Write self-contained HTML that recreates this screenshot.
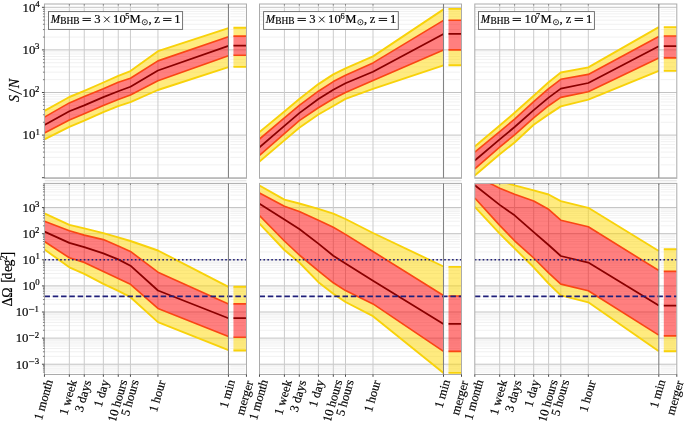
<!DOCTYPE html>
<html><head><meta charset="utf-8"><style>
html,body{margin:0;padding:0;background:#fff;overflow:hidden;}
svg{display:block;}
text{filter:grayscale(1);stroke:#000;stroke-width:0.18px;}
</style></head><body>
<svg width="685" height="421" viewBox="0 0 685 421">
<rect width="685" height="421" fill="#fff"/>
<defs>
<clipPath id="c00"><rect x="44.45" y="4.0" width="202.0" height="174.3"/></clipPath>
<clipPath id="c01"><rect x="259.5" y="4.0" width="202.0" height="174.3"/></clipPath>
<clipPath id="c02"><rect x="474.8" y="4.0" width="202.0" height="174.3"/></clipPath>
<clipPath id="c10"><rect x="44.45" y="183.4" width="202.0" height="191.1"/></clipPath>
<clipPath id="c11"><rect x="259.5" y="183.4" width="202.0" height="191.1"/></clipPath>
<clipPath id="c12"><rect x="474.8" y="183.4" width="202.0" height="191.1"/></clipPath>
</defs>
<g clip-path="url(#c00)">
<path d="M44.45 164.88H226.65M230.25 164.88H244.85" stroke="#f1f1f1" stroke-width="1" fill="none"/>
<path d="M44.45 157.37H226.65M230.25 157.37H244.85" stroke="#f1f1f1" stroke-width="1" fill="none"/>
<path d="M44.45 152.05H226.65M230.25 152.05H244.85" stroke="#f1f1f1" stroke-width="1" fill="none"/>
<path d="M44.45 147.92H226.65M230.25 147.92H244.85" stroke="#f1f1f1" stroke-width="1" fill="none"/>
<path d="M44.45 144.55H226.65M230.25 144.55H244.85" stroke="#f1f1f1" stroke-width="1" fill="none"/>
<path d="M44.45 141.70H226.65M230.25 141.70H244.85" stroke="#f1f1f1" stroke-width="1" fill="none"/>
<path d="M44.45 139.23H226.65M230.25 139.23H244.85" stroke="#f1f1f1" stroke-width="1" fill="none"/>
<path d="M44.45 137.05H226.65M230.25 137.05H244.85" stroke="#f1f1f1" stroke-width="1" fill="none"/>
<path d="M44.45 122.28H226.65M230.25 122.28H244.85" stroke="#f1f1f1" stroke-width="1" fill="none"/>
<path d="M44.45 114.77H226.65M230.25 114.77H244.85" stroke="#f1f1f1" stroke-width="1" fill="none"/>
<path d="M44.45 109.45H226.65M230.25 109.45H244.85" stroke="#f1f1f1" stroke-width="1" fill="none"/>
<path d="M44.45 105.32H226.65M230.25 105.32H244.85" stroke="#f1f1f1" stroke-width="1" fill="none"/>
<path d="M44.45 101.95H226.65M230.25 101.95H244.85" stroke="#f1f1f1" stroke-width="1" fill="none"/>
<path d="M44.45 99.10H226.65M230.25 99.10H244.85" stroke="#f1f1f1" stroke-width="1" fill="none"/>
<path d="M44.45 96.63H226.65M230.25 96.63H244.85" stroke="#f1f1f1" stroke-width="1" fill="none"/>
<path d="M44.45 94.45H226.65M230.25 94.45H244.85" stroke="#f1f1f1" stroke-width="1" fill="none"/>
<path d="M44.45 79.68H226.65M230.25 79.68H244.85" stroke="#f1f1f1" stroke-width="1" fill="none"/>
<path d="M44.45 72.17H226.65M230.25 72.17H244.85" stroke="#f1f1f1" stroke-width="1" fill="none"/>
<path d="M44.45 66.85H226.65M230.25 66.85H244.85" stroke="#f1f1f1" stroke-width="1" fill="none"/>
<path d="M44.45 62.72H226.65M230.25 62.72H244.85" stroke="#f1f1f1" stroke-width="1" fill="none"/>
<path d="M44.45 59.35H226.65M230.25 59.35H244.85" stroke="#f1f1f1" stroke-width="1" fill="none"/>
<path d="M44.45 56.50H226.65M230.25 56.50H244.85" stroke="#f1f1f1" stroke-width="1" fill="none"/>
<path d="M44.45 54.03H226.65M230.25 54.03H244.85" stroke="#f1f1f1" stroke-width="1" fill="none"/>
<path d="M44.45 51.85H226.65M230.25 51.85H244.85" stroke="#f1f1f1" stroke-width="1" fill="none"/>
<path d="M44.45 37.08H226.65M230.25 37.08H244.85" stroke="#f1f1f1" stroke-width="1" fill="none"/>
<path d="M44.45 29.57H226.65M230.25 29.57H244.85" stroke="#f1f1f1" stroke-width="1" fill="none"/>
<path d="M44.45 24.25H226.65M230.25 24.25H244.85" stroke="#f1f1f1" stroke-width="1" fill="none"/>
<path d="M44.45 20.12H226.65M230.25 20.12H244.85" stroke="#f1f1f1" stroke-width="1" fill="none"/>
<path d="M44.45 16.75H226.65M230.25 16.75H244.85" stroke="#f1f1f1" stroke-width="1" fill="none"/>
<path d="M44.45 13.90H226.65M230.25 13.90H244.85" stroke="#f1f1f1" stroke-width="1" fill="none"/>
<path d="M44.45 11.43H226.65M230.25 11.43H244.85" stroke="#f1f1f1" stroke-width="1" fill="none"/>
<path d="M44.45 9.25H226.65M230.25 9.25H244.85" stroke="#f1f1f1" stroke-width="1" fill="none"/>
<path d="M44.45 177.70H246.45" stroke="#c3c3c3" stroke-width="1" fill="none"/>
<path d="M44.45 135.10H246.45" stroke="#c3c3c3" stroke-width="1" fill="none"/>
<path d="M44.45 92.50H246.45" stroke="#c3c3c3" stroke-width="1" fill="none"/>
<path d="M44.45 49.90H246.45" stroke="#c3c3c3" stroke-width="1" fill="none"/>
<path d="M44.45 7.30H246.45" stroke="#c3c3c3" stroke-width="1" fill="none"/>
<path d="M69.35 4.00V178.30" stroke="#cbcbcb" stroke-width="1" fill="none"/>
<path d="M84.25 4.00V178.30" stroke="#cbcbcb" stroke-width="1" fill="none"/>
<path d="M103.35 4.00V178.30" stroke="#cbcbcb" stroke-width="1" fill="none"/>
<path d="M118.25 4.00V178.30" stroke="#cbcbcb" stroke-width="1" fill="none"/>
<path d="M130.45 4.00V178.30" stroke="#cbcbcb" stroke-width="1" fill="none"/>
<path d="M157.95 4.00V178.30" stroke="#cbcbcb" stroke-width="1" fill="none"/>
<polygon points="44.45,110.90 69.35,97.00 84.25,90.80 103.35,82.50 118.25,75.80 130.45,71.10 157.95,51.20 228.45,28.20 228.45,36.70 157.95,60.90 130.45,78.30 118.25,82.30 103.35,88.80 84.25,96.60 69.35,102.90 44.45,117.10" fill="#ffd700" fill-opacity="0.5"/>
<polygon points="44.45,132.90 69.35,120.00 84.25,113.80 103.35,105.40 118.25,99.50 130.45,94.90 157.95,80.70 228.45,55.70 228.45,67.10 157.95,90.00 130.45,102.20 118.25,106.20 103.35,112.10 84.25,120.60 69.35,126.80 44.45,139.40" fill="#ffd700" fill-opacity="0.5"/>
<polygon points="44.45,117.10 69.35,102.90 84.25,96.60 103.35,88.80 118.25,82.30 130.45,78.30 157.95,60.90 228.45,36.70 228.45,55.70 157.95,80.70 130.45,94.90 118.25,99.50 103.35,105.40 84.25,113.80 69.35,120.00 44.45,132.90" fill="#ff0000" fill-opacity="0.5"/>
<polyline points="44.45,110.90 69.35,97.00 84.25,90.80 103.35,82.50 118.25,75.80 130.45,71.10 157.95,51.20 228.45,28.20" stroke="#f8d20a" stroke-width="1.9" fill="none" stroke-linejoin="round"/>
<polyline points="44.45,139.40 69.35,126.80 84.25,120.60 103.35,112.10 118.25,106.20 130.45,102.20 157.95,90.00 228.45,67.10" stroke="#f8d20a" stroke-width="1.9" fill="none" stroke-linejoin="round"/>
<polyline points="44.45,117.10 69.35,102.90 84.25,96.60 103.35,88.80 118.25,82.30 130.45,78.30 157.95,60.90 228.45,36.70" stroke="#fa4614" stroke-width="1.65" fill="none" stroke-linejoin="round"/>
<polyline points="44.45,132.90 69.35,120.00 84.25,113.80 103.35,105.40 118.25,99.50 130.45,94.90 157.95,80.70 228.45,55.70" stroke="#fa4614" stroke-width="1.65" fill="none" stroke-linejoin="round"/>
<polyline points="44.45,125.00 69.35,111.20 84.25,105.40 103.35,97.10 118.25,91.20 130.45,86.80 157.95,70.50 228.45,45.80" stroke="#8a0000" stroke-width="1.75" fill="none" stroke-linejoin="round"/>
<rect x="233.45" y="27.80" width="13.00" height="8.30" fill="#ffd700" fill-opacity="0.5"/>
<rect x="233.45" y="55.20" width="13.00" height="11.70" fill="#ffd700" fill-opacity="0.5"/>
<rect x="233.45" y="36.10" width="13.00" height="19.10" fill="#ff0000" fill-opacity="0.5"/>
<path d="M233.45 27.80H246.45" stroke="#f8d20a" stroke-width="1.9" fill="none"/>
<path d="M233.45 66.90H246.45" stroke="#f8d20a" stroke-width="1.9" fill="none"/>
<path d="M233.45 36.10H246.45" stroke="#fa4614" stroke-width="1.65" fill="none"/>
<path d="M233.45 55.20H246.45" stroke="#fa4614" stroke-width="1.65" fill="none"/>
<path d="M233.45 45.70H246.45" stroke="#8a0000" stroke-width="1.75" fill="none"/>
<path d="M228.45 4.00V178.30" stroke="#838383" stroke-width="1.1" fill="none"/>
</g>
<rect x="44.45" y="4.00" width="202.0" height="174.30" fill="none" stroke="#ababab" stroke-width="1"/>
<path d="M41.95 177.70H44.45" stroke="#333" stroke-width="0.9"/>
<path d="M42.95 164.88H44.45" stroke="#444" stroke-width="0.7"/>
<path d="M42.95 157.37H44.45" stroke="#444" stroke-width="0.7"/>
<path d="M42.95 152.05H44.45" stroke="#444" stroke-width="0.7"/>
<path d="M42.95 147.92H44.45" stroke="#444" stroke-width="0.7"/>
<path d="M42.95 144.55H44.45" stroke="#444" stroke-width="0.7"/>
<path d="M42.95 141.70H44.45" stroke="#444" stroke-width="0.7"/>
<path d="M42.95 139.23H44.45" stroke="#444" stroke-width="0.7"/>
<path d="M42.95 137.05H44.45" stroke="#444" stroke-width="0.7"/>
<path d="M41.95 135.10H44.45" stroke="#333" stroke-width="0.9"/>
<path d="M42.95 122.28H44.45" stroke="#444" stroke-width="0.7"/>
<path d="M42.95 114.77H44.45" stroke="#444" stroke-width="0.7"/>
<path d="M42.95 109.45H44.45" stroke="#444" stroke-width="0.7"/>
<path d="M42.95 105.32H44.45" stroke="#444" stroke-width="0.7"/>
<path d="M42.95 101.95H44.45" stroke="#444" stroke-width="0.7"/>
<path d="M42.95 99.10H44.45" stroke="#444" stroke-width="0.7"/>
<path d="M42.95 96.63H44.45" stroke="#444" stroke-width="0.7"/>
<path d="M42.95 94.45H44.45" stroke="#444" stroke-width="0.7"/>
<path d="M41.95 92.50H44.45" stroke="#333" stroke-width="0.9"/>
<path d="M42.95 79.68H44.45" stroke="#444" stroke-width="0.7"/>
<path d="M42.95 72.17H44.45" stroke="#444" stroke-width="0.7"/>
<path d="M42.95 66.85H44.45" stroke="#444" stroke-width="0.7"/>
<path d="M42.95 62.72H44.45" stroke="#444" stroke-width="0.7"/>
<path d="M42.95 59.35H44.45" stroke="#444" stroke-width="0.7"/>
<path d="M42.95 56.50H44.45" stroke="#444" stroke-width="0.7"/>
<path d="M42.95 54.03H44.45" stroke="#444" stroke-width="0.7"/>
<path d="M42.95 51.85H44.45" stroke="#444" stroke-width="0.7"/>
<path d="M41.95 49.90H44.45" stroke="#333" stroke-width="0.9"/>
<path d="M42.95 37.08H44.45" stroke="#444" stroke-width="0.7"/>
<path d="M42.95 29.57H44.45" stroke="#444" stroke-width="0.7"/>
<path d="M42.95 24.25H44.45" stroke="#444" stroke-width="0.7"/>
<path d="M42.95 20.12H44.45" stroke="#444" stroke-width="0.7"/>
<path d="M42.95 16.75H44.45" stroke="#444" stroke-width="0.7"/>
<path d="M42.95 13.90H44.45" stroke="#444" stroke-width="0.7"/>
<path d="M42.95 11.43H44.45" stroke="#444" stroke-width="0.7"/>
<path d="M42.95 9.25H44.45" stroke="#444" stroke-width="0.7"/>
<path d="M41.95 7.30H44.45" stroke="#333" stroke-width="0.9"/>
<path d="M69.35 4.00V5.60" stroke="#777" stroke-width="0.8"/>
<path d="M84.25 4.00V5.60" stroke="#777" stroke-width="0.8"/>
<path d="M103.35 4.00V5.60" stroke="#777" stroke-width="0.8"/>
<path d="M118.25 4.00V5.60" stroke="#777" stroke-width="0.8"/>
<path d="M130.45 4.00V5.60" stroke="#777" stroke-width="0.8"/>
<path d="M157.95 4.00V5.60" stroke="#777" stroke-width="0.8"/>
<path d="M228.45 4.00V5.60" stroke="#777" stroke-width="0.8"/>
<g clip-path="url(#c01)">
<path d="M259.50 164.88H441.70M445.30 164.88H459.90" stroke="#f1f1f1" stroke-width="1" fill="none"/>
<path d="M259.50 157.37H441.70M445.30 157.37H459.90" stroke="#f1f1f1" stroke-width="1" fill="none"/>
<path d="M259.50 152.05H441.70M445.30 152.05H459.90" stroke="#f1f1f1" stroke-width="1" fill="none"/>
<path d="M259.50 147.92H441.70M445.30 147.92H459.90" stroke="#f1f1f1" stroke-width="1" fill="none"/>
<path d="M259.50 144.55H441.70M445.30 144.55H459.90" stroke="#f1f1f1" stroke-width="1" fill="none"/>
<path d="M259.50 141.70H441.70M445.30 141.70H459.90" stroke="#f1f1f1" stroke-width="1" fill="none"/>
<path d="M259.50 139.23H441.70M445.30 139.23H459.90" stroke="#f1f1f1" stroke-width="1" fill="none"/>
<path d="M259.50 137.05H441.70M445.30 137.05H459.90" stroke="#f1f1f1" stroke-width="1" fill="none"/>
<path d="M259.50 122.28H441.70M445.30 122.28H459.90" stroke="#f1f1f1" stroke-width="1" fill="none"/>
<path d="M259.50 114.77H441.70M445.30 114.77H459.90" stroke="#f1f1f1" stroke-width="1" fill="none"/>
<path d="M259.50 109.45H441.70M445.30 109.45H459.90" stroke="#f1f1f1" stroke-width="1" fill="none"/>
<path d="M259.50 105.32H441.70M445.30 105.32H459.90" stroke="#f1f1f1" stroke-width="1" fill="none"/>
<path d="M259.50 101.95H441.70M445.30 101.95H459.90" stroke="#f1f1f1" stroke-width="1" fill="none"/>
<path d="M259.50 99.10H441.70M445.30 99.10H459.90" stroke="#f1f1f1" stroke-width="1" fill="none"/>
<path d="M259.50 96.63H441.70M445.30 96.63H459.90" stroke="#f1f1f1" stroke-width="1" fill="none"/>
<path d="M259.50 94.45H441.70M445.30 94.45H459.90" stroke="#f1f1f1" stroke-width="1" fill="none"/>
<path d="M259.50 79.68H441.70M445.30 79.68H459.90" stroke="#f1f1f1" stroke-width="1" fill="none"/>
<path d="M259.50 72.17H441.70M445.30 72.17H459.90" stroke="#f1f1f1" stroke-width="1" fill="none"/>
<path d="M259.50 66.85H441.70M445.30 66.85H459.90" stroke="#f1f1f1" stroke-width="1" fill="none"/>
<path d="M259.50 62.72H441.70M445.30 62.72H459.90" stroke="#f1f1f1" stroke-width="1" fill="none"/>
<path d="M259.50 59.35H441.70M445.30 59.35H459.90" stroke="#f1f1f1" stroke-width="1" fill="none"/>
<path d="M259.50 56.50H441.70M445.30 56.50H459.90" stroke="#f1f1f1" stroke-width="1" fill="none"/>
<path d="M259.50 54.03H441.70M445.30 54.03H459.90" stroke="#f1f1f1" stroke-width="1" fill="none"/>
<path d="M259.50 51.85H441.70M445.30 51.85H459.90" stroke="#f1f1f1" stroke-width="1" fill="none"/>
<path d="M259.50 37.08H441.70M445.30 37.08H459.90" stroke="#f1f1f1" stroke-width="1" fill="none"/>
<path d="M259.50 29.57H441.70M445.30 29.57H459.90" stroke="#f1f1f1" stroke-width="1" fill="none"/>
<path d="M259.50 24.25H441.70M445.30 24.25H459.90" stroke="#f1f1f1" stroke-width="1" fill="none"/>
<path d="M259.50 20.12H441.70M445.30 20.12H459.90" stroke="#f1f1f1" stroke-width="1" fill="none"/>
<path d="M259.50 16.75H441.70M445.30 16.75H459.90" stroke="#f1f1f1" stroke-width="1" fill="none"/>
<path d="M259.50 13.90H441.70M445.30 13.90H459.90" stroke="#f1f1f1" stroke-width="1" fill="none"/>
<path d="M259.50 11.43H441.70M445.30 11.43H459.90" stroke="#f1f1f1" stroke-width="1" fill="none"/>
<path d="M259.50 9.25H441.70M445.30 9.25H459.90" stroke="#f1f1f1" stroke-width="1" fill="none"/>
<path d="M259.50 177.70H461.50" stroke="#c3c3c3" stroke-width="1" fill="none"/>
<path d="M259.50 135.10H461.50" stroke="#c3c3c3" stroke-width="1" fill="none"/>
<path d="M259.50 92.50H461.50" stroke="#c3c3c3" stroke-width="1" fill="none"/>
<path d="M259.50 49.90H461.50" stroke="#c3c3c3" stroke-width="1" fill="none"/>
<path d="M259.50 7.30H461.50" stroke="#c3c3c3" stroke-width="1" fill="none"/>
<path d="M284.40 4.00V178.30" stroke="#cbcbcb" stroke-width="1" fill="none"/>
<path d="M299.30 4.00V178.30" stroke="#cbcbcb" stroke-width="1" fill="none"/>
<path d="M318.40 4.00V178.30" stroke="#cbcbcb" stroke-width="1" fill="none"/>
<path d="M333.30 4.00V178.30" stroke="#cbcbcb" stroke-width="1" fill="none"/>
<path d="M345.50 4.00V178.30" stroke="#cbcbcb" stroke-width="1" fill="none"/>
<path d="M373.00 4.00V178.30" stroke="#cbcbcb" stroke-width="1" fill="none"/>
<polygon points="259.50,132.00 284.40,111.40 299.30,99.00 318.40,84.10 333.30,74.40 345.50,68.30 373.00,56.40 443.50,9.40 443.50,20.40 373.00,62.90 345.50,75.30 333.30,81.60 318.40,91.20 299.30,105.30 284.40,117.90 259.50,139.00" fill="#ffd700" fill-opacity="0.5"/>
<polygon points="259.50,155.30 284.40,133.60 299.30,120.60 318.40,107.80 333.30,98.80 345.50,92.40 373.00,80.60 443.50,50.10 443.50,65.30 373.00,88.90 345.50,98.90 333.30,106.00 318.40,114.50 299.30,127.70 284.40,140.40 259.50,161.50" fill="#ffd700" fill-opacity="0.5"/>
<polygon points="259.50,139.00 284.40,117.90 299.30,105.30 318.40,91.20 333.30,81.60 345.50,75.30 373.00,62.90 443.50,20.40 443.50,50.10 373.00,80.60 345.50,92.40 333.30,98.80 318.40,107.80 299.30,120.60 284.40,133.60 259.50,155.30" fill="#ff0000" fill-opacity="0.5"/>
<polyline points="259.50,132.00 284.40,111.40 299.30,99.00 318.40,84.10 333.30,74.40 345.50,68.30 373.00,56.40 443.50,9.40" stroke="#f8d20a" stroke-width="1.9" fill="none" stroke-linejoin="round"/>
<polyline points="259.50,161.50 284.40,140.40 299.30,127.70 318.40,114.50 333.30,106.00 345.50,98.90 373.00,88.90 443.50,65.30" stroke="#f8d20a" stroke-width="1.9" fill="none" stroke-linejoin="round"/>
<polyline points="259.50,139.00 284.40,117.90 299.30,105.30 318.40,91.20 333.30,81.60 345.50,75.30 373.00,62.90 443.50,20.40" stroke="#fa4614" stroke-width="1.65" fill="none" stroke-linejoin="round"/>
<polyline points="259.50,155.30 284.40,133.60 299.30,120.60 318.40,107.80 333.30,98.80 345.50,92.40 373.00,80.60 443.50,50.10" stroke="#fa4614" stroke-width="1.65" fill="none" stroke-linejoin="round"/>
<polyline points="259.50,147.30 284.40,125.90 299.30,113.10 318.40,99.00 333.30,89.70 345.50,83.20 373.00,71.80 443.50,33.90" stroke="#8a0000" stroke-width="1.75" fill="none" stroke-linejoin="round"/>
<rect x="448.50" y="8.90" width="13.00" height="11.30" fill="#ffd700" fill-opacity="0.5"/>
<rect x="448.50" y="49.90" width="13.00" height="15.30" fill="#ffd700" fill-opacity="0.5"/>
<rect x="448.50" y="20.20" width="13.00" height="29.70" fill="#ff0000" fill-opacity="0.5"/>
<path d="M448.50 8.90H461.50" stroke="#f8d20a" stroke-width="1.9" fill="none"/>
<path d="M448.50 65.20H461.50" stroke="#f8d20a" stroke-width="1.9" fill="none"/>
<path d="M448.50 20.20H461.50" stroke="#fa4614" stroke-width="1.65" fill="none"/>
<path d="M448.50 49.90H461.50" stroke="#fa4614" stroke-width="1.65" fill="none"/>
<path d="M448.50 33.90H461.50" stroke="#8a0000" stroke-width="1.75" fill="none"/>
<path d="M443.50 4.00V178.30" stroke="#838383" stroke-width="1.1" fill="none"/>
</g>
<rect x="259.50" y="4.00" width="202.0" height="174.30" fill="none" stroke="#ababab" stroke-width="1"/>
<path d="M284.40 4.00V5.60" stroke="#777" stroke-width="0.8"/>
<path d="M299.30 4.00V5.60" stroke="#777" stroke-width="0.8"/>
<path d="M318.40 4.00V5.60" stroke="#777" stroke-width="0.8"/>
<path d="M333.30 4.00V5.60" stroke="#777" stroke-width="0.8"/>
<path d="M345.50 4.00V5.60" stroke="#777" stroke-width="0.8"/>
<path d="M373.00 4.00V5.60" stroke="#777" stroke-width="0.8"/>
<path d="M443.50 4.00V5.60" stroke="#777" stroke-width="0.8"/>
<g clip-path="url(#c02)">
<path d="M474.80 164.88H657.00M660.60 164.88H675.20" stroke="#f1f1f1" stroke-width="1" fill="none"/>
<path d="M474.80 157.37H657.00M660.60 157.37H675.20" stroke="#f1f1f1" stroke-width="1" fill="none"/>
<path d="M474.80 152.05H657.00M660.60 152.05H675.20" stroke="#f1f1f1" stroke-width="1" fill="none"/>
<path d="M474.80 147.92H657.00M660.60 147.92H675.20" stroke="#f1f1f1" stroke-width="1" fill="none"/>
<path d="M474.80 144.55H657.00M660.60 144.55H675.20" stroke="#f1f1f1" stroke-width="1" fill="none"/>
<path d="M474.80 141.70H657.00M660.60 141.70H675.20" stroke="#f1f1f1" stroke-width="1" fill="none"/>
<path d="M474.80 139.23H657.00M660.60 139.23H675.20" stroke="#f1f1f1" stroke-width="1" fill="none"/>
<path d="M474.80 137.05H657.00M660.60 137.05H675.20" stroke="#f1f1f1" stroke-width="1" fill="none"/>
<path d="M474.80 122.28H657.00M660.60 122.28H675.20" stroke="#f1f1f1" stroke-width="1" fill="none"/>
<path d="M474.80 114.77H657.00M660.60 114.77H675.20" stroke="#f1f1f1" stroke-width="1" fill="none"/>
<path d="M474.80 109.45H657.00M660.60 109.45H675.20" stroke="#f1f1f1" stroke-width="1" fill="none"/>
<path d="M474.80 105.32H657.00M660.60 105.32H675.20" stroke="#f1f1f1" stroke-width="1" fill="none"/>
<path d="M474.80 101.95H657.00M660.60 101.95H675.20" stroke="#f1f1f1" stroke-width="1" fill="none"/>
<path d="M474.80 99.10H657.00M660.60 99.10H675.20" stroke="#f1f1f1" stroke-width="1" fill="none"/>
<path d="M474.80 96.63H657.00M660.60 96.63H675.20" stroke="#f1f1f1" stroke-width="1" fill="none"/>
<path d="M474.80 94.45H657.00M660.60 94.45H675.20" stroke="#f1f1f1" stroke-width="1" fill="none"/>
<path d="M474.80 79.68H657.00M660.60 79.68H675.20" stroke="#f1f1f1" stroke-width="1" fill="none"/>
<path d="M474.80 72.17H657.00M660.60 72.17H675.20" stroke="#f1f1f1" stroke-width="1" fill="none"/>
<path d="M474.80 66.85H657.00M660.60 66.85H675.20" stroke="#f1f1f1" stroke-width="1" fill="none"/>
<path d="M474.80 62.72H657.00M660.60 62.72H675.20" stroke="#f1f1f1" stroke-width="1" fill="none"/>
<path d="M474.80 59.35H657.00M660.60 59.35H675.20" stroke="#f1f1f1" stroke-width="1" fill="none"/>
<path d="M474.80 56.50H657.00M660.60 56.50H675.20" stroke="#f1f1f1" stroke-width="1" fill="none"/>
<path d="M474.80 54.03H657.00M660.60 54.03H675.20" stroke="#f1f1f1" stroke-width="1" fill="none"/>
<path d="M474.80 51.85H657.00M660.60 51.85H675.20" stroke="#f1f1f1" stroke-width="1" fill="none"/>
<path d="M474.80 37.08H657.00M660.60 37.08H675.20" stroke="#f1f1f1" stroke-width="1" fill="none"/>
<path d="M474.80 29.57H657.00M660.60 29.57H675.20" stroke="#f1f1f1" stroke-width="1" fill="none"/>
<path d="M474.80 24.25H657.00M660.60 24.25H675.20" stroke="#f1f1f1" stroke-width="1" fill="none"/>
<path d="M474.80 20.12H657.00M660.60 20.12H675.20" stroke="#f1f1f1" stroke-width="1" fill="none"/>
<path d="M474.80 16.75H657.00M660.60 16.75H675.20" stroke="#f1f1f1" stroke-width="1" fill="none"/>
<path d="M474.80 13.90H657.00M660.60 13.90H675.20" stroke="#f1f1f1" stroke-width="1" fill="none"/>
<path d="M474.80 11.43H657.00M660.60 11.43H675.20" stroke="#f1f1f1" stroke-width="1" fill="none"/>
<path d="M474.80 9.25H657.00M660.60 9.25H675.20" stroke="#f1f1f1" stroke-width="1" fill="none"/>
<path d="M474.80 177.70H676.80" stroke="#c3c3c3" stroke-width="1" fill="none"/>
<path d="M474.80 135.10H676.80" stroke="#c3c3c3" stroke-width="1" fill="none"/>
<path d="M474.80 92.50H676.80" stroke="#c3c3c3" stroke-width="1" fill="none"/>
<path d="M474.80 49.90H676.80" stroke="#c3c3c3" stroke-width="1" fill="none"/>
<path d="M474.80 7.30H676.80" stroke="#c3c3c3" stroke-width="1" fill="none"/>
<path d="M499.70 4.00V178.30" stroke="#cbcbcb" stroke-width="1" fill="none"/>
<path d="M514.60 4.00V178.30" stroke="#cbcbcb" stroke-width="1" fill="none"/>
<path d="M533.70 4.00V178.30" stroke="#cbcbcb" stroke-width="1" fill="none"/>
<path d="M548.60 4.00V178.30" stroke="#cbcbcb" stroke-width="1" fill="none"/>
<path d="M560.80 4.00V178.30" stroke="#cbcbcb" stroke-width="1" fill="none"/>
<path d="M588.30 4.00V178.30" stroke="#cbcbcb" stroke-width="1" fill="none"/>
<polygon points="474.80,146.40 499.70,125.50 514.60,112.80 533.70,95.80 548.60,82.20 560.80,72.50 588.30,67.40 658.80,27.10 658.80,36.50 588.30,74.40 560.80,79.30 548.60,88.60 533.70,101.70 514.60,119.10 499.70,131.70 474.80,152.20" fill="#ffd700" fill-opacity="0.5"/>
<polygon points="474.80,168.80 499.70,147.10 514.60,134.80 533.70,117.80 548.60,105.70 560.80,97.40 588.30,91.80 658.80,58.10 658.80,70.90 588.30,99.60 560.80,106.40 548.60,114.40 533.70,124.70 514.60,142.50 499.70,154.30 474.80,175.50" fill="#ffd700" fill-opacity="0.5"/>
<polygon points="474.80,152.20 499.70,131.70 514.60,119.10 533.70,101.70 548.60,88.60 560.80,79.30 588.30,74.40 658.80,36.50 658.80,58.10 588.30,91.80 560.80,97.40 548.60,105.70 533.70,117.80 514.60,134.80 499.70,147.10 474.80,168.80" fill="#ff0000" fill-opacity="0.5"/>
<polyline points="474.80,146.40 499.70,125.50 514.60,112.80 533.70,95.80 548.60,82.20 560.80,72.50 588.30,67.40 658.80,27.10" stroke="#f8d20a" stroke-width="1.9" fill="none" stroke-linejoin="round"/>
<polyline points="474.80,175.50 499.70,154.30 514.60,142.50 533.70,124.70 548.60,114.40 560.80,106.40 588.30,99.60 658.80,70.90" stroke="#f8d20a" stroke-width="1.9" fill="none" stroke-linejoin="round"/>
<polyline points="474.80,152.20 499.70,131.70 514.60,119.10 533.70,101.70 548.60,88.60 560.80,79.30 588.30,74.40 658.80,36.50" stroke="#fa4614" stroke-width="1.65" fill="none" stroke-linejoin="round"/>
<polyline points="474.80,168.80 499.70,147.10 514.60,134.80 533.70,117.80 548.60,105.70 560.80,97.40 588.30,91.80 658.80,58.10" stroke="#fa4614" stroke-width="1.65" fill="none" stroke-linejoin="round"/>
<polyline points="474.80,160.50 499.70,139.40 514.60,127.00 533.70,110.10 548.60,97.60 560.80,88.60 588.30,83.00 658.80,46.30" stroke="#8a0000" stroke-width="1.75" fill="none" stroke-linejoin="round"/>
<rect x="663.80" y="27.10" width="13.00" height="8.90" fill="#ffd700" fill-opacity="0.5"/>
<rect x="663.80" y="57.90" width="13.00" height="13.00" fill="#ffd700" fill-opacity="0.5"/>
<rect x="663.80" y="36.00" width="13.00" height="21.90" fill="#ff0000" fill-opacity="0.5"/>
<path d="M663.80 27.10H676.80" stroke="#f8d20a" stroke-width="1.9" fill="none"/>
<path d="M663.80 70.90H676.80" stroke="#f8d20a" stroke-width="1.9" fill="none"/>
<path d="M663.80 36.00H676.80" stroke="#fa4614" stroke-width="1.65" fill="none"/>
<path d="M663.80 57.90H676.80" stroke="#fa4614" stroke-width="1.65" fill="none"/>
<path d="M663.80 46.10H676.80" stroke="#8a0000" stroke-width="1.75" fill="none"/>
<path d="M658.80 4.00V178.30" stroke="#838383" stroke-width="1.1" fill="none"/>
</g>
<rect x="474.80" y="4.00" width="202.0" height="174.30" fill="none" stroke="#ababab" stroke-width="1"/>
<path d="M499.70 4.00V5.60" stroke="#777" stroke-width="0.8"/>
<path d="M514.60 4.00V5.60" stroke="#777" stroke-width="0.8"/>
<path d="M533.70 4.00V5.60" stroke="#777" stroke-width="0.8"/>
<path d="M548.60 4.00V5.60" stroke="#777" stroke-width="0.8"/>
<path d="M560.80 4.00V5.60" stroke="#777" stroke-width="0.8"/>
<path d="M588.30 4.00V5.60" stroke="#777" stroke-width="0.8"/>
<path d="M658.80 4.00V5.60" stroke="#777" stroke-width="0.8"/>
<g clip-path="url(#c10)">
<path d="M44.45 372.09H226.65M230.25 372.09H244.85" stroke="#f1f1f1" stroke-width="1" fill="none"/>
<path d="M44.45 370.02H226.65M230.25 370.02H244.85" stroke="#f1f1f1" stroke-width="1" fill="none"/>
<path d="M44.45 368.27H226.65M230.25 368.27H244.85" stroke="#f1f1f1" stroke-width="1" fill="none"/>
<path d="M44.45 366.76H226.65M230.25 366.76H244.85" stroke="#f1f1f1" stroke-width="1" fill="none"/>
<path d="M44.45 365.42H226.65M230.25 365.42H244.85" stroke="#f1f1f1" stroke-width="1" fill="none"/>
<path d="M44.45 356.37H226.65M230.25 356.37H244.85" stroke="#f1f1f1" stroke-width="1" fill="none"/>
<path d="M44.45 351.77H226.65M230.25 351.77H244.85" stroke="#f1f1f1" stroke-width="1" fill="none"/>
<path d="M44.45 348.51H226.65M230.25 348.51H244.85" stroke="#f1f1f1" stroke-width="1" fill="none"/>
<path d="M44.45 345.98H226.65M230.25 345.98H244.85" stroke="#f1f1f1" stroke-width="1" fill="none"/>
<path d="M44.45 343.91H226.65M230.25 343.91H244.85" stroke="#f1f1f1" stroke-width="1" fill="none"/>
<path d="M44.45 342.16H226.65M230.25 342.16H244.85" stroke="#f1f1f1" stroke-width="1" fill="none"/>
<path d="M44.45 340.65H226.65M230.25 340.65H244.85" stroke="#f1f1f1" stroke-width="1" fill="none"/>
<path d="M44.45 339.31H226.65M230.25 339.31H244.85" stroke="#f1f1f1" stroke-width="1" fill="none"/>
<path d="M44.45 330.26H226.65M230.25 330.26H244.85" stroke="#f1f1f1" stroke-width="1" fill="none"/>
<path d="M44.45 325.66H226.65M230.25 325.66H244.85" stroke="#f1f1f1" stroke-width="1" fill="none"/>
<path d="M44.45 322.40H226.65M230.25 322.40H244.85" stroke="#f1f1f1" stroke-width="1" fill="none"/>
<path d="M44.45 319.87H226.65M230.25 319.87H244.85" stroke="#f1f1f1" stroke-width="1" fill="none"/>
<path d="M44.45 317.80H226.65M230.25 317.80H244.85" stroke="#f1f1f1" stroke-width="1" fill="none"/>
<path d="M44.45 316.05H226.65M230.25 316.05H244.85" stroke="#f1f1f1" stroke-width="1" fill="none"/>
<path d="M44.45 314.54H226.65M230.25 314.54H244.85" stroke="#f1f1f1" stroke-width="1" fill="none"/>
<path d="M44.45 313.20H226.65M230.25 313.20H244.85" stroke="#f1f1f1" stroke-width="1" fill="none"/>
<path d="M44.45 304.15H226.65M230.25 304.15H244.85" stroke="#f1f1f1" stroke-width="1" fill="none"/>
<path d="M44.45 299.55H226.65M230.25 299.55H244.85" stroke="#f1f1f1" stroke-width="1" fill="none"/>
<path d="M44.45 296.29H226.65M230.25 296.29H244.85" stroke="#f1f1f1" stroke-width="1" fill="none"/>
<path d="M44.45 293.76H226.65M230.25 293.76H244.85" stroke="#f1f1f1" stroke-width="1" fill="none"/>
<path d="M44.45 291.69H226.65M230.25 291.69H244.85" stroke="#f1f1f1" stroke-width="1" fill="none"/>
<path d="M44.45 289.94H226.65M230.25 289.94H244.85" stroke="#f1f1f1" stroke-width="1" fill="none"/>
<path d="M44.45 288.43H226.65M230.25 288.43H244.85" stroke="#f1f1f1" stroke-width="1" fill="none"/>
<path d="M44.45 287.09H226.65M230.25 287.09H244.85" stroke="#f1f1f1" stroke-width="1" fill="none"/>
<path d="M44.45 278.04H226.65M230.25 278.04H244.85" stroke="#f1f1f1" stroke-width="1" fill="none"/>
<path d="M44.45 273.44H226.65M230.25 273.44H244.85" stroke="#f1f1f1" stroke-width="1" fill="none"/>
<path d="M44.45 270.18H226.65M230.25 270.18H244.85" stroke="#f1f1f1" stroke-width="1" fill="none"/>
<path d="M44.45 267.65H226.65M230.25 267.65H244.85" stroke="#f1f1f1" stroke-width="1" fill="none"/>
<path d="M44.45 265.58H226.65M230.25 265.58H244.85" stroke="#f1f1f1" stroke-width="1" fill="none"/>
<path d="M44.45 263.83H226.65M230.25 263.83H244.85" stroke="#f1f1f1" stroke-width="1" fill="none"/>
<path d="M44.45 262.32H226.65M230.25 262.32H244.85" stroke="#f1f1f1" stroke-width="1" fill="none"/>
<path d="M44.45 260.98H226.65M230.25 260.98H244.85" stroke="#f1f1f1" stroke-width="1" fill="none"/>
<path d="M44.45 251.93H226.65M230.25 251.93H244.85" stroke="#f1f1f1" stroke-width="1" fill="none"/>
<path d="M44.45 247.33H226.65M230.25 247.33H244.85" stroke="#f1f1f1" stroke-width="1" fill="none"/>
<path d="M44.45 244.07H226.65M230.25 244.07H244.85" stroke="#f1f1f1" stroke-width="1" fill="none"/>
<path d="M44.45 241.54H226.65M230.25 241.54H244.85" stroke="#f1f1f1" stroke-width="1" fill="none"/>
<path d="M44.45 239.47H226.65M230.25 239.47H244.85" stroke="#f1f1f1" stroke-width="1" fill="none"/>
<path d="M44.45 237.72H226.65M230.25 237.72H244.85" stroke="#f1f1f1" stroke-width="1" fill="none"/>
<path d="M44.45 236.21H226.65M230.25 236.21H244.85" stroke="#f1f1f1" stroke-width="1" fill="none"/>
<path d="M44.45 234.87H226.65M230.25 234.87H244.85" stroke="#f1f1f1" stroke-width="1" fill="none"/>
<path d="M44.45 225.82H226.65M230.25 225.82H244.85" stroke="#f1f1f1" stroke-width="1" fill="none"/>
<path d="M44.45 221.22H226.65M230.25 221.22H244.85" stroke="#f1f1f1" stroke-width="1" fill="none"/>
<path d="M44.45 217.96H226.65M230.25 217.96H244.85" stroke="#f1f1f1" stroke-width="1" fill="none"/>
<path d="M44.45 215.43H226.65M230.25 215.43H244.85" stroke="#f1f1f1" stroke-width="1" fill="none"/>
<path d="M44.45 213.36H226.65M230.25 213.36H244.85" stroke="#f1f1f1" stroke-width="1" fill="none"/>
<path d="M44.45 211.61H226.65M230.25 211.61H244.85" stroke="#f1f1f1" stroke-width="1" fill="none"/>
<path d="M44.45 210.10H226.65M230.25 210.10H244.85" stroke="#f1f1f1" stroke-width="1" fill="none"/>
<path d="M44.45 208.76H226.65M230.25 208.76H244.85" stroke="#f1f1f1" stroke-width="1" fill="none"/>
<path d="M44.45 199.71H226.65M230.25 199.71H244.85" stroke="#f1f1f1" stroke-width="1" fill="none"/>
<path d="M44.45 195.11H226.65M230.25 195.11H244.85" stroke="#f1f1f1" stroke-width="1" fill="none"/>
<path d="M44.45 191.85H226.65M230.25 191.85H244.85" stroke="#f1f1f1" stroke-width="1" fill="none"/>
<path d="M44.45 189.32H226.65M230.25 189.32H244.85" stroke="#f1f1f1" stroke-width="1" fill="none"/>
<path d="M44.45 187.25H226.65M230.25 187.25H244.85" stroke="#f1f1f1" stroke-width="1" fill="none"/>
<path d="M44.45 185.50H226.65M230.25 185.50H244.85" stroke="#f1f1f1" stroke-width="1" fill="none"/>
<path d="M44.45 183.99H226.65M230.25 183.99H244.85" stroke="#f1f1f1" stroke-width="1" fill="none"/>
<path d="M44.45 364.23H246.45" stroke="#c3c3c3" stroke-width="1" fill="none"/>
<path d="M44.45 338.12H246.45" stroke="#c3c3c3" stroke-width="1" fill="none"/>
<path d="M44.45 312.01H246.45" stroke="#c3c3c3" stroke-width="1" fill="none"/>
<path d="M44.45 285.90H246.45" stroke="#c3c3c3" stroke-width="1" fill="none"/>
<path d="M44.45 259.79H246.45" stroke="#c3c3c3" stroke-width="1" fill="none"/>
<path d="M44.45 233.68H246.45" stroke="#c3c3c3" stroke-width="1" fill="none"/>
<path d="M44.45 207.57H246.45" stroke="#c3c3c3" stroke-width="1" fill="none"/>
<path d="M69.35 183.40V374.50" stroke="#cbcbcb" stroke-width="1" fill="none"/>
<path d="M84.25 183.40V374.50" stroke="#cbcbcb" stroke-width="1" fill="none"/>
<path d="M103.35 183.40V374.50" stroke="#cbcbcb" stroke-width="1" fill="none"/>
<path d="M118.25 183.40V374.50" stroke="#cbcbcb" stroke-width="1" fill="none"/>
<path d="M130.45 183.40V374.50" stroke="#cbcbcb" stroke-width="1" fill="none"/>
<path d="M157.95 183.40V374.50" stroke="#cbcbcb" stroke-width="1" fill="none"/>
<polygon points="44.45,213.30 69.35,224.90 84.25,228.40 103.35,233.20 118.25,237.40 130.45,241.00 157.95,250.50 228.45,286.80 228.45,303.90 157.95,272.20 130.45,251.40 118.25,246.00 103.35,239.60 84.25,235.10 69.35,230.70 44.45,221.30" fill="#ffd700" fill-opacity="0.5"/>
<polygon points="44.45,241.50 69.35,257.80 84.25,262.40 103.35,271.60 118.25,278.60 130.45,284.30 157.95,308.40 228.45,336.50 228.45,350.20 157.95,322.10 130.45,297.20 118.25,290.80 103.35,283.80 84.25,273.80 69.35,267.30 44.45,249.50" fill="#ffd700" fill-opacity="0.5"/>
<polygon points="44.45,221.30 69.35,230.70 84.25,235.10 103.35,239.60 118.25,246.00 130.45,251.40 157.95,272.20 228.45,303.90 228.45,336.50 157.95,308.40 130.45,284.30 118.25,278.60 103.35,271.60 84.25,262.40 69.35,257.80 44.45,241.50" fill="#ff0000" fill-opacity="0.5"/>
<polyline points="44.45,213.30 69.35,224.90 84.25,228.40 103.35,233.20 118.25,237.40 130.45,241.00 157.95,250.50 228.45,286.80" stroke="#f8d20a" stroke-width="1.9" fill="none" stroke-linejoin="round"/>
<polyline points="44.45,249.50 69.35,267.30 84.25,273.80 103.35,283.80 118.25,290.80 130.45,297.20 157.95,322.10 228.45,350.20" stroke="#f8d20a" stroke-width="1.9" fill="none" stroke-linejoin="round"/>
<polyline points="44.45,221.30 69.35,230.70 84.25,235.10 103.35,239.60 118.25,246.00 130.45,251.40 157.95,272.20 228.45,303.90" stroke="#fa4614" stroke-width="1.65" fill="none" stroke-linejoin="round"/>
<polyline points="44.45,241.50 69.35,257.80 84.25,262.40 103.35,271.60 118.25,278.60 130.45,284.30 157.95,308.40 228.45,336.50" stroke="#fa4614" stroke-width="1.65" fill="none" stroke-linejoin="round"/>
<polyline points="44.45,231.60 69.35,242.90 84.25,247.20 103.35,253.40 118.25,259.40 130.45,265.70 157.95,290.50 228.45,318.20" stroke="#8a0000" stroke-width="1.75" fill="none" stroke-linejoin="round"/>
<rect x="233.45" y="286.80" width="13.00" height="17.10" fill="#ffd700" fill-opacity="0.5"/>
<rect x="233.45" y="337.20" width="13.00" height="13.30" fill="#ffd700" fill-opacity="0.5"/>
<rect x="233.45" y="303.90" width="13.00" height="33.30" fill="#ff0000" fill-opacity="0.5"/>
<path d="M233.45 286.80H246.45" stroke="#f8d20a" stroke-width="1.9" fill="none"/>
<path d="M233.45 350.50H246.45" stroke="#f8d20a" stroke-width="1.9" fill="none"/>
<path d="M233.45 303.90H246.45" stroke="#fa4614" stroke-width="1.65" fill="none"/>
<path d="M233.45 337.20H246.45" stroke="#fa4614" stroke-width="1.65" fill="none"/>
<path d="M233.45 318.20H246.45" stroke="#8a0000" stroke-width="1.75" fill="none"/>
<path d="M44.45 259.79H246.45" stroke="#1f1f7a" stroke-width="1.6" stroke-dasharray="1.6 2.33" fill="none"/>
<path d="M44.45 296.29H246.45" stroke="#1f1f7a" stroke-width="1.8" stroke-dasharray="5.5 2.8" fill="none"/>
<path d="M228.45 183.40V374.50" stroke="#838383" stroke-width="1.1" fill="none"/>
</g>
<rect x="44.45" y="183.40" width="202.0" height="191.10" fill="none" stroke="#ababab" stroke-width="1"/>
<path d="M42.95 372.09H44.45" stroke="#444" stroke-width="0.7"/>
<path d="M42.95 370.02H44.45" stroke="#444" stroke-width="0.7"/>
<path d="M42.95 368.27H44.45" stroke="#444" stroke-width="0.7"/>
<path d="M42.95 366.76H44.45" stroke="#444" stroke-width="0.7"/>
<path d="M42.95 365.42H44.45" stroke="#444" stroke-width="0.7"/>
<path d="M41.95 364.23H44.45" stroke="#333" stroke-width="0.9"/>
<path d="M42.95 356.37H44.45" stroke="#444" stroke-width="0.7"/>
<path d="M42.95 351.77H44.45" stroke="#444" stroke-width="0.7"/>
<path d="M42.95 348.51H44.45" stroke="#444" stroke-width="0.7"/>
<path d="M42.95 345.98H44.45" stroke="#444" stroke-width="0.7"/>
<path d="M42.95 343.91H44.45" stroke="#444" stroke-width="0.7"/>
<path d="M42.95 342.16H44.45" stroke="#444" stroke-width="0.7"/>
<path d="M42.95 340.65H44.45" stroke="#444" stroke-width="0.7"/>
<path d="M42.95 339.31H44.45" stroke="#444" stroke-width="0.7"/>
<path d="M41.95 338.12H44.45" stroke="#333" stroke-width="0.9"/>
<path d="M42.95 330.26H44.45" stroke="#444" stroke-width="0.7"/>
<path d="M42.95 325.66H44.45" stroke="#444" stroke-width="0.7"/>
<path d="M42.95 322.40H44.45" stroke="#444" stroke-width="0.7"/>
<path d="M42.95 319.87H44.45" stroke="#444" stroke-width="0.7"/>
<path d="M42.95 317.80H44.45" stroke="#444" stroke-width="0.7"/>
<path d="M42.95 316.05H44.45" stroke="#444" stroke-width="0.7"/>
<path d="M42.95 314.54H44.45" stroke="#444" stroke-width="0.7"/>
<path d="M42.95 313.20H44.45" stroke="#444" stroke-width="0.7"/>
<path d="M41.95 312.01H44.45" stroke="#333" stroke-width="0.9"/>
<path d="M42.95 304.15H44.45" stroke="#444" stroke-width="0.7"/>
<path d="M42.95 299.55H44.45" stroke="#444" stroke-width="0.7"/>
<path d="M42.95 296.29H44.45" stroke="#444" stroke-width="0.7"/>
<path d="M42.95 293.76H44.45" stroke="#444" stroke-width="0.7"/>
<path d="M42.95 291.69H44.45" stroke="#444" stroke-width="0.7"/>
<path d="M42.95 289.94H44.45" stroke="#444" stroke-width="0.7"/>
<path d="M42.95 288.43H44.45" stroke="#444" stroke-width="0.7"/>
<path d="M42.95 287.09H44.45" stroke="#444" stroke-width="0.7"/>
<path d="M41.95 285.90H44.45" stroke="#333" stroke-width="0.9"/>
<path d="M42.95 278.04H44.45" stroke="#444" stroke-width="0.7"/>
<path d="M42.95 273.44H44.45" stroke="#444" stroke-width="0.7"/>
<path d="M42.95 270.18H44.45" stroke="#444" stroke-width="0.7"/>
<path d="M42.95 267.65H44.45" stroke="#444" stroke-width="0.7"/>
<path d="M42.95 265.58H44.45" stroke="#444" stroke-width="0.7"/>
<path d="M42.95 263.83H44.45" stroke="#444" stroke-width="0.7"/>
<path d="M42.95 262.32H44.45" stroke="#444" stroke-width="0.7"/>
<path d="M42.95 260.98H44.45" stroke="#444" stroke-width="0.7"/>
<path d="M41.95 259.79H44.45" stroke="#333" stroke-width="0.9"/>
<path d="M42.95 251.93H44.45" stroke="#444" stroke-width="0.7"/>
<path d="M42.95 247.33H44.45" stroke="#444" stroke-width="0.7"/>
<path d="M42.95 244.07H44.45" stroke="#444" stroke-width="0.7"/>
<path d="M42.95 241.54H44.45" stroke="#444" stroke-width="0.7"/>
<path d="M42.95 239.47H44.45" stroke="#444" stroke-width="0.7"/>
<path d="M42.95 237.72H44.45" stroke="#444" stroke-width="0.7"/>
<path d="M42.95 236.21H44.45" stroke="#444" stroke-width="0.7"/>
<path d="M42.95 234.87H44.45" stroke="#444" stroke-width="0.7"/>
<path d="M41.95 233.68H44.45" stroke="#333" stroke-width="0.9"/>
<path d="M42.95 225.82H44.45" stroke="#444" stroke-width="0.7"/>
<path d="M42.95 221.22H44.45" stroke="#444" stroke-width="0.7"/>
<path d="M42.95 217.96H44.45" stroke="#444" stroke-width="0.7"/>
<path d="M42.95 215.43H44.45" stroke="#444" stroke-width="0.7"/>
<path d="M42.95 213.36H44.45" stroke="#444" stroke-width="0.7"/>
<path d="M42.95 211.61H44.45" stroke="#444" stroke-width="0.7"/>
<path d="M42.95 210.10H44.45" stroke="#444" stroke-width="0.7"/>
<path d="M42.95 208.76H44.45" stroke="#444" stroke-width="0.7"/>
<path d="M41.95 207.57H44.45" stroke="#333" stroke-width="0.9"/>
<path d="M42.95 199.71H44.45" stroke="#444" stroke-width="0.7"/>
<path d="M42.95 195.11H44.45" stroke="#444" stroke-width="0.7"/>
<path d="M42.95 191.85H44.45" stroke="#444" stroke-width="0.7"/>
<path d="M42.95 189.32H44.45" stroke="#444" stroke-width="0.7"/>
<path d="M42.95 187.25H44.45" stroke="#444" stroke-width="0.7"/>
<path d="M42.95 185.50H44.45" stroke="#444" stroke-width="0.7"/>
<path d="M42.95 183.99H44.45" stroke="#444" stroke-width="0.7"/>
<path d="M69.35 183.40V185.00" stroke="#777" stroke-width="0.8"/>
<path d="M84.25 183.40V185.00" stroke="#777" stroke-width="0.8"/>
<path d="M103.35 183.40V185.00" stroke="#777" stroke-width="0.8"/>
<path d="M118.25 183.40V185.00" stroke="#777" stroke-width="0.8"/>
<path d="M130.45 183.40V185.00" stroke="#777" stroke-width="0.8"/>
<path d="M157.95 183.40V185.00" stroke="#777" stroke-width="0.8"/>
<path d="M228.45 183.40V185.00" stroke="#777" stroke-width="0.8"/>
<path d="M44.45 374.50V376.80" stroke="#333" stroke-width="0.9"/>
<path d="M69.35 374.50V376.80" stroke="#333" stroke-width="0.9"/>
<path d="M84.25 374.50V376.80" stroke="#333" stroke-width="0.9"/>
<path d="M103.35 374.50V376.80" stroke="#333" stroke-width="0.9"/>
<path d="M118.25 374.50V376.80" stroke="#333" stroke-width="0.9"/>
<path d="M130.45 374.50V376.80" stroke="#333" stroke-width="0.9"/>
<path d="M157.95 374.50V376.80" stroke="#333" stroke-width="0.9"/>
<path d="M228.45 374.50V376.80" stroke="#333" stroke-width="0.9"/>
<path d="M246.45 374.50V376.80" stroke="#333" stroke-width="0.9"/>
<g clip-path="url(#c11)">
<path d="M259.50 372.09H441.70M445.30 372.09H459.90" stroke="#f1f1f1" stroke-width="1" fill="none"/>
<path d="M259.50 370.02H441.70M445.30 370.02H459.90" stroke="#f1f1f1" stroke-width="1" fill="none"/>
<path d="M259.50 368.27H441.70M445.30 368.27H459.90" stroke="#f1f1f1" stroke-width="1" fill="none"/>
<path d="M259.50 366.76H441.70M445.30 366.76H459.90" stroke="#f1f1f1" stroke-width="1" fill="none"/>
<path d="M259.50 365.42H441.70M445.30 365.42H459.90" stroke="#f1f1f1" stroke-width="1" fill="none"/>
<path d="M259.50 356.37H441.70M445.30 356.37H459.90" stroke="#f1f1f1" stroke-width="1" fill="none"/>
<path d="M259.50 351.77H441.70M445.30 351.77H459.90" stroke="#f1f1f1" stroke-width="1" fill="none"/>
<path d="M259.50 348.51H441.70M445.30 348.51H459.90" stroke="#f1f1f1" stroke-width="1" fill="none"/>
<path d="M259.50 345.98H441.70M445.30 345.98H459.90" stroke="#f1f1f1" stroke-width="1" fill="none"/>
<path d="M259.50 343.91H441.70M445.30 343.91H459.90" stroke="#f1f1f1" stroke-width="1" fill="none"/>
<path d="M259.50 342.16H441.70M445.30 342.16H459.90" stroke="#f1f1f1" stroke-width="1" fill="none"/>
<path d="M259.50 340.65H441.70M445.30 340.65H459.90" stroke="#f1f1f1" stroke-width="1" fill="none"/>
<path d="M259.50 339.31H441.70M445.30 339.31H459.90" stroke="#f1f1f1" stroke-width="1" fill="none"/>
<path d="M259.50 330.26H441.70M445.30 330.26H459.90" stroke="#f1f1f1" stroke-width="1" fill="none"/>
<path d="M259.50 325.66H441.70M445.30 325.66H459.90" stroke="#f1f1f1" stroke-width="1" fill="none"/>
<path d="M259.50 322.40H441.70M445.30 322.40H459.90" stroke="#f1f1f1" stroke-width="1" fill="none"/>
<path d="M259.50 319.87H441.70M445.30 319.87H459.90" stroke="#f1f1f1" stroke-width="1" fill="none"/>
<path d="M259.50 317.80H441.70M445.30 317.80H459.90" stroke="#f1f1f1" stroke-width="1" fill="none"/>
<path d="M259.50 316.05H441.70M445.30 316.05H459.90" stroke="#f1f1f1" stroke-width="1" fill="none"/>
<path d="M259.50 314.54H441.70M445.30 314.54H459.90" stroke="#f1f1f1" stroke-width="1" fill="none"/>
<path d="M259.50 313.20H441.70M445.30 313.20H459.90" stroke="#f1f1f1" stroke-width="1" fill="none"/>
<path d="M259.50 304.15H441.70M445.30 304.15H459.90" stroke="#f1f1f1" stroke-width="1" fill="none"/>
<path d="M259.50 299.55H441.70M445.30 299.55H459.90" stroke="#f1f1f1" stroke-width="1" fill="none"/>
<path d="M259.50 296.29H441.70M445.30 296.29H459.90" stroke="#f1f1f1" stroke-width="1" fill="none"/>
<path d="M259.50 293.76H441.70M445.30 293.76H459.90" stroke="#f1f1f1" stroke-width="1" fill="none"/>
<path d="M259.50 291.69H441.70M445.30 291.69H459.90" stroke="#f1f1f1" stroke-width="1" fill="none"/>
<path d="M259.50 289.94H441.70M445.30 289.94H459.90" stroke="#f1f1f1" stroke-width="1" fill="none"/>
<path d="M259.50 288.43H441.70M445.30 288.43H459.90" stroke="#f1f1f1" stroke-width="1" fill="none"/>
<path d="M259.50 287.09H441.70M445.30 287.09H459.90" stroke="#f1f1f1" stroke-width="1" fill="none"/>
<path d="M259.50 278.04H441.70M445.30 278.04H459.90" stroke="#f1f1f1" stroke-width="1" fill="none"/>
<path d="M259.50 273.44H441.70M445.30 273.44H459.90" stroke="#f1f1f1" stroke-width="1" fill="none"/>
<path d="M259.50 270.18H441.70M445.30 270.18H459.90" stroke="#f1f1f1" stroke-width="1" fill="none"/>
<path d="M259.50 267.65H441.70M445.30 267.65H459.90" stroke="#f1f1f1" stroke-width="1" fill="none"/>
<path d="M259.50 265.58H441.70M445.30 265.58H459.90" stroke="#f1f1f1" stroke-width="1" fill="none"/>
<path d="M259.50 263.83H441.70M445.30 263.83H459.90" stroke="#f1f1f1" stroke-width="1" fill="none"/>
<path d="M259.50 262.32H441.70M445.30 262.32H459.90" stroke="#f1f1f1" stroke-width="1" fill="none"/>
<path d="M259.50 260.98H441.70M445.30 260.98H459.90" stroke="#f1f1f1" stroke-width="1" fill="none"/>
<path d="M259.50 251.93H441.70M445.30 251.93H459.90" stroke="#f1f1f1" stroke-width="1" fill="none"/>
<path d="M259.50 247.33H441.70M445.30 247.33H459.90" stroke="#f1f1f1" stroke-width="1" fill="none"/>
<path d="M259.50 244.07H441.70M445.30 244.07H459.90" stroke="#f1f1f1" stroke-width="1" fill="none"/>
<path d="M259.50 241.54H441.70M445.30 241.54H459.90" stroke="#f1f1f1" stroke-width="1" fill="none"/>
<path d="M259.50 239.47H441.70M445.30 239.47H459.90" stroke="#f1f1f1" stroke-width="1" fill="none"/>
<path d="M259.50 237.72H441.70M445.30 237.72H459.90" stroke="#f1f1f1" stroke-width="1" fill="none"/>
<path d="M259.50 236.21H441.70M445.30 236.21H459.90" stroke="#f1f1f1" stroke-width="1" fill="none"/>
<path d="M259.50 234.87H441.70M445.30 234.87H459.90" stroke="#f1f1f1" stroke-width="1" fill="none"/>
<path d="M259.50 225.82H441.70M445.30 225.82H459.90" stroke="#f1f1f1" stroke-width="1" fill="none"/>
<path d="M259.50 221.22H441.70M445.30 221.22H459.90" stroke="#f1f1f1" stroke-width="1" fill="none"/>
<path d="M259.50 217.96H441.70M445.30 217.96H459.90" stroke="#f1f1f1" stroke-width="1" fill="none"/>
<path d="M259.50 215.43H441.70M445.30 215.43H459.90" stroke="#f1f1f1" stroke-width="1" fill="none"/>
<path d="M259.50 213.36H441.70M445.30 213.36H459.90" stroke="#f1f1f1" stroke-width="1" fill="none"/>
<path d="M259.50 211.61H441.70M445.30 211.61H459.90" stroke="#f1f1f1" stroke-width="1" fill="none"/>
<path d="M259.50 210.10H441.70M445.30 210.10H459.90" stroke="#f1f1f1" stroke-width="1" fill="none"/>
<path d="M259.50 208.76H441.70M445.30 208.76H459.90" stroke="#f1f1f1" stroke-width="1" fill="none"/>
<path d="M259.50 199.71H441.70M445.30 199.71H459.90" stroke="#f1f1f1" stroke-width="1" fill="none"/>
<path d="M259.50 195.11H441.70M445.30 195.11H459.90" stroke="#f1f1f1" stroke-width="1" fill="none"/>
<path d="M259.50 191.85H441.70M445.30 191.85H459.90" stroke="#f1f1f1" stroke-width="1" fill="none"/>
<path d="M259.50 189.32H441.70M445.30 189.32H459.90" stroke="#f1f1f1" stroke-width="1" fill="none"/>
<path d="M259.50 187.25H441.70M445.30 187.25H459.90" stroke="#f1f1f1" stroke-width="1" fill="none"/>
<path d="M259.50 185.50H441.70M445.30 185.50H459.90" stroke="#f1f1f1" stroke-width="1" fill="none"/>
<path d="M259.50 183.99H441.70M445.30 183.99H459.90" stroke="#f1f1f1" stroke-width="1" fill="none"/>
<path d="M259.50 364.23H461.50" stroke="#c3c3c3" stroke-width="1" fill="none"/>
<path d="M259.50 338.12H461.50" stroke="#c3c3c3" stroke-width="1" fill="none"/>
<path d="M259.50 312.01H461.50" stroke="#c3c3c3" stroke-width="1" fill="none"/>
<path d="M259.50 285.90H461.50" stroke="#c3c3c3" stroke-width="1" fill="none"/>
<path d="M259.50 259.79H461.50" stroke="#c3c3c3" stroke-width="1" fill="none"/>
<path d="M259.50 233.68H461.50" stroke="#c3c3c3" stroke-width="1" fill="none"/>
<path d="M259.50 207.57H461.50" stroke="#c3c3c3" stroke-width="1" fill="none"/>
<path d="M284.40 183.40V374.50" stroke="#cbcbcb" stroke-width="1" fill="none"/>
<path d="M299.30 183.40V374.50" stroke="#cbcbcb" stroke-width="1" fill="none"/>
<path d="M318.40 183.40V374.50" stroke="#cbcbcb" stroke-width="1" fill="none"/>
<path d="M333.30 183.40V374.50" stroke="#cbcbcb" stroke-width="1" fill="none"/>
<path d="M345.50 183.40V374.50" stroke="#cbcbcb" stroke-width="1" fill="none"/>
<path d="M373.00 183.40V374.50" stroke="#cbcbcb" stroke-width="1" fill="none"/>
<polygon points="259.50,185.50 284.40,199.60 299.30,203.50 318.40,208.90 333.30,213.70 345.50,219.00 373.00,233.00 443.50,266.50 443.50,295.50 373.00,251.50 345.50,234.40 333.30,227.30 318.40,220.20 299.30,211.50 284.40,206.30 259.50,193.00" fill="#ffd700" fill-opacity="0.5"/>
<polygon points="259.50,215.70 284.40,241.00 299.30,255.00 318.40,270.80 333.30,282.80 345.50,290.60 373.00,303.90 443.50,351.40 443.50,372.90 373.00,316.20 345.50,302.00 333.30,293.80 318.40,282.20 299.30,262.50 284.40,250.00 259.50,223.70" fill="#ffd700" fill-opacity="0.5"/>
<polygon points="259.50,193.00 284.40,206.30 299.30,211.50 318.40,220.20 333.30,227.30 345.50,234.40 373.00,251.50 443.50,295.50 443.50,351.40 373.00,303.90 345.50,290.60 333.30,282.80 318.40,270.80 299.30,255.00 284.40,241.00 259.50,215.70" fill="#ff0000" fill-opacity="0.5"/>
<polyline points="259.50,185.50 284.40,199.60 299.30,203.50 318.40,208.90 333.30,213.70 345.50,219.00 373.00,233.00 443.50,266.50" stroke="#f8d20a" stroke-width="1.9" fill="none" stroke-linejoin="round"/>
<polyline points="259.50,223.70 284.40,250.00 299.30,262.50 318.40,282.20 333.30,293.80 345.50,302.00 373.00,316.20 443.50,372.90" stroke="#f8d20a" stroke-width="1.9" fill="none" stroke-linejoin="round"/>
<polyline points="259.50,193.00 284.40,206.30 299.30,211.50 318.40,220.20 333.30,227.30 345.50,234.40 373.00,251.50 443.50,295.50" stroke="#fa4614" stroke-width="1.65" fill="none" stroke-linejoin="round"/>
<polyline points="259.50,215.70 284.40,241.00 299.30,255.00 318.40,270.80 333.30,282.80 345.50,290.60 373.00,303.90 443.50,351.40" stroke="#fa4614" stroke-width="1.65" fill="none" stroke-linejoin="round"/>
<polyline points="259.50,203.80 284.40,219.60 299.30,229.00 318.40,243.60 333.30,255.80 345.50,263.50 373.00,280.70 443.50,323.90" stroke="#8a0000" stroke-width="1.75" fill="none" stroke-linejoin="round"/>
<rect x="448.50" y="266.90" width="13.00" height="29.10" fill="#ffd700" fill-opacity="0.5"/>
<rect x="448.50" y="351.40" width="13.00" height="21.50" fill="#ffd700" fill-opacity="0.5"/>
<rect x="448.50" y="296.00" width="13.00" height="55.40" fill="#ff0000" fill-opacity="0.5"/>
<path d="M448.50 266.90H461.50" stroke="#f8d20a" stroke-width="1.9" fill="none"/>
<path d="M448.50 372.90H461.50" stroke="#f8d20a" stroke-width="1.9" fill="none"/>
<path d="M448.50 296.00H461.50" stroke="#fa4614" stroke-width="1.65" fill="none"/>
<path d="M448.50 351.40H461.50" stroke="#fa4614" stroke-width="1.65" fill="none"/>
<path d="M448.50 323.90H461.50" stroke="#8a0000" stroke-width="1.75" fill="none"/>
<path d="M259.50 259.79H461.50" stroke="#1f1f7a" stroke-width="1.6" stroke-dasharray="1.6 2.33" fill="none"/>
<path d="M259.50 296.29H461.50" stroke="#1f1f7a" stroke-width="1.8" stroke-dasharray="5.5 2.8" fill="none"/>
<path d="M443.50 183.40V374.50" stroke="#838383" stroke-width="1.1" fill="none"/>
</g>
<rect x="259.50" y="183.40" width="202.0" height="191.10" fill="none" stroke="#ababab" stroke-width="1"/>
<path d="M284.40 183.40V185.00" stroke="#777" stroke-width="0.8"/>
<path d="M299.30 183.40V185.00" stroke="#777" stroke-width="0.8"/>
<path d="M318.40 183.40V185.00" stroke="#777" stroke-width="0.8"/>
<path d="M333.30 183.40V185.00" stroke="#777" stroke-width="0.8"/>
<path d="M345.50 183.40V185.00" stroke="#777" stroke-width="0.8"/>
<path d="M373.00 183.40V185.00" stroke="#777" stroke-width="0.8"/>
<path d="M443.50 183.40V185.00" stroke="#777" stroke-width="0.8"/>
<path d="M259.50 374.50V376.80" stroke="#333" stroke-width="0.9"/>
<path d="M284.40 374.50V376.80" stroke="#333" stroke-width="0.9"/>
<path d="M299.30 374.50V376.80" stroke="#333" stroke-width="0.9"/>
<path d="M318.40 374.50V376.80" stroke="#333" stroke-width="0.9"/>
<path d="M333.30 374.50V376.80" stroke="#333" stroke-width="0.9"/>
<path d="M345.50 374.50V376.80" stroke="#333" stroke-width="0.9"/>
<path d="M373.00 374.50V376.80" stroke="#333" stroke-width="0.9"/>
<path d="M443.50 374.50V376.80" stroke="#333" stroke-width="0.9"/>
<path d="M461.50 374.50V376.80" stroke="#333" stroke-width="0.9"/>
<g clip-path="url(#c12)">
<path d="M474.80 372.09H657.00M660.60 372.09H675.20" stroke="#f1f1f1" stroke-width="1" fill="none"/>
<path d="M474.80 370.02H657.00M660.60 370.02H675.20" stroke="#f1f1f1" stroke-width="1" fill="none"/>
<path d="M474.80 368.27H657.00M660.60 368.27H675.20" stroke="#f1f1f1" stroke-width="1" fill="none"/>
<path d="M474.80 366.76H657.00M660.60 366.76H675.20" stroke="#f1f1f1" stroke-width="1" fill="none"/>
<path d="M474.80 365.42H657.00M660.60 365.42H675.20" stroke="#f1f1f1" stroke-width="1" fill="none"/>
<path d="M474.80 356.37H657.00M660.60 356.37H675.20" stroke="#f1f1f1" stroke-width="1" fill="none"/>
<path d="M474.80 351.77H657.00M660.60 351.77H675.20" stroke="#f1f1f1" stroke-width="1" fill="none"/>
<path d="M474.80 348.51H657.00M660.60 348.51H675.20" stroke="#f1f1f1" stroke-width="1" fill="none"/>
<path d="M474.80 345.98H657.00M660.60 345.98H675.20" stroke="#f1f1f1" stroke-width="1" fill="none"/>
<path d="M474.80 343.91H657.00M660.60 343.91H675.20" stroke="#f1f1f1" stroke-width="1" fill="none"/>
<path d="M474.80 342.16H657.00M660.60 342.16H675.20" stroke="#f1f1f1" stroke-width="1" fill="none"/>
<path d="M474.80 340.65H657.00M660.60 340.65H675.20" stroke="#f1f1f1" stroke-width="1" fill="none"/>
<path d="M474.80 339.31H657.00M660.60 339.31H675.20" stroke="#f1f1f1" stroke-width="1" fill="none"/>
<path d="M474.80 330.26H657.00M660.60 330.26H675.20" stroke="#f1f1f1" stroke-width="1" fill="none"/>
<path d="M474.80 325.66H657.00M660.60 325.66H675.20" stroke="#f1f1f1" stroke-width="1" fill="none"/>
<path d="M474.80 322.40H657.00M660.60 322.40H675.20" stroke="#f1f1f1" stroke-width="1" fill="none"/>
<path d="M474.80 319.87H657.00M660.60 319.87H675.20" stroke="#f1f1f1" stroke-width="1" fill="none"/>
<path d="M474.80 317.80H657.00M660.60 317.80H675.20" stroke="#f1f1f1" stroke-width="1" fill="none"/>
<path d="M474.80 316.05H657.00M660.60 316.05H675.20" stroke="#f1f1f1" stroke-width="1" fill="none"/>
<path d="M474.80 314.54H657.00M660.60 314.54H675.20" stroke="#f1f1f1" stroke-width="1" fill="none"/>
<path d="M474.80 313.20H657.00M660.60 313.20H675.20" stroke="#f1f1f1" stroke-width="1" fill="none"/>
<path d="M474.80 304.15H657.00M660.60 304.15H675.20" stroke="#f1f1f1" stroke-width="1" fill="none"/>
<path d="M474.80 299.55H657.00M660.60 299.55H675.20" stroke="#f1f1f1" stroke-width="1" fill="none"/>
<path d="M474.80 296.29H657.00M660.60 296.29H675.20" stroke="#f1f1f1" stroke-width="1" fill="none"/>
<path d="M474.80 293.76H657.00M660.60 293.76H675.20" stroke="#f1f1f1" stroke-width="1" fill="none"/>
<path d="M474.80 291.69H657.00M660.60 291.69H675.20" stroke="#f1f1f1" stroke-width="1" fill="none"/>
<path d="M474.80 289.94H657.00M660.60 289.94H675.20" stroke="#f1f1f1" stroke-width="1" fill="none"/>
<path d="M474.80 288.43H657.00M660.60 288.43H675.20" stroke="#f1f1f1" stroke-width="1" fill="none"/>
<path d="M474.80 287.09H657.00M660.60 287.09H675.20" stroke="#f1f1f1" stroke-width="1" fill="none"/>
<path d="M474.80 278.04H657.00M660.60 278.04H675.20" stroke="#f1f1f1" stroke-width="1" fill="none"/>
<path d="M474.80 273.44H657.00M660.60 273.44H675.20" stroke="#f1f1f1" stroke-width="1" fill="none"/>
<path d="M474.80 270.18H657.00M660.60 270.18H675.20" stroke="#f1f1f1" stroke-width="1" fill="none"/>
<path d="M474.80 267.65H657.00M660.60 267.65H675.20" stroke="#f1f1f1" stroke-width="1" fill="none"/>
<path d="M474.80 265.58H657.00M660.60 265.58H675.20" stroke="#f1f1f1" stroke-width="1" fill="none"/>
<path d="M474.80 263.83H657.00M660.60 263.83H675.20" stroke="#f1f1f1" stroke-width="1" fill="none"/>
<path d="M474.80 262.32H657.00M660.60 262.32H675.20" stroke="#f1f1f1" stroke-width="1" fill="none"/>
<path d="M474.80 260.98H657.00M660.60 260.98H675.20" stroke="#f1f1f1" stroke-width="1" fill="none"/>
<path d="M474.80 251.93H657.00M660.60 251.93H675.20" stroke="#f1f1f1" stroke-width="1" fill="none"/>
<path d="M474.80 247.33H657.00M660.60 247.33H675.20" stroke="#f1f1f1" stroke-width="1" fill="none"/>
<path d="M474.80 244.07H657.00M660.60 244.07H675.20" stroke="#f1f1f1" stroke-width="1" fill="none"/>
<path d="M474.80 241.54H657.00M660.60 241.54H675.20" stroke="#f1f1f1" stroke-width="1" fill="none"/>
<path d="M474.80 239.47H657.00M660.60 239.47H675.20" stroke="#f1f1f1" stroke-width="1" fill="none"/>
<path d="M474.80 237.72H657.00M660.60 237.72H675.20" stroke="#f1f1f1" stroke-width="1" fill="none"/>
<path d="M474.80 236.21H657.00M660.60 236.21H675.20" stroke="#f1f1f1" stroke-width="1" fill="none"/>
<path d="M474.80 234.87H657.00M660.60 234.87H675.20" stroke="#f1f1f1" stroke-width="1" fill="none"/>
<path d="M474.80 225.82H657.00M660.60 225.82H675.20" stroke="#f1f1f1" stroke-width="1" fill="none"/>
<path d="M474.80 221.22H657.00M660.60 221.22H675.20" stroke="#f1f1f1" stroke-width="1" fill="none"/>
<path d="M474.80 217.96H657.00M660.60 217.96H675.20" stroke="#f1f1f1" stroke-width="1" fill="none"/>
<path d="M474.80 215.43H657.00M660.60 215.43H675.20" stroke="#f1f1f1" stroke-width="1" fill="none"/>
<path d="M474.80 213.36H657.00M660.60 213.36H675.20" stroke="#f1f1f1" stroke-width="1" fill="none"/>
<path d="M474.80 211.61H657.00M660.60 211.61H675.20" stroke="#f1f1f1" stroke-width="1" fill="none"/>
<path d="M474.80 210.10H657.00M660.60 210.10H675.20" stroke="#f1f1f1" stroke-width="1" fill="none"/>
<path d="M474.80 208.76H657.00M660.60 208.76H675.20" stroke="#f1f1f1" stroke-width="1" fill="none"/>
<path d="M474.80 199.71H657.00M660.60 199.71H675.20" stroke="#f1f1f1" stroke-width="1" fill="none"/>
<path d="M474.80 195.11H657.00M660.60 195.11H675.20" stroke="#f1f1f1" stroke-width="1" fill="none"/>
<path d="M474.80 191.85H657.00M660.60 191.85H675.20" stroke="#f1f1f1" stroke-width="1" fill="none"/>
<path d="M474.80 189.32H657.00M660.60 189.32H675.20" stroke="#f1f1f1" stroke-width="1" fill="none"/>
<path d="M474.80 187.25H657.00M660.60 187.25H675.20" stroke="#f1f1f1" stroke-width="1" fill="none"/>
<path d="M474.80 185.50H657.00M660.60 185.50H675.20" stroke="#f1f1f1" stroke-width="1" fill="none"/>
<path d="M474.80 183.99H657.00M660.60 183.99H675.20" stroke="#f1f1f1" stroke-width="1" fill="none"/>
<path d="M474.80 364.23H676.80" stroke="#c3c3c3" stroke-width="1" fill="none"/>
<path d="M474.80 338.12H676.80" stroke="#c3c3c3" stroke-width="1" fill="none"/>
<path d="M474.80 312.01H676.80" stroke="#c3c3c3" stroke-width="1" fill="none"/>
<path d="M474.80 285.90H676.80" stroke="#c3c3c3" stroke-width="1" fill="none"/>
<path d="M474.80 259.79H676.80" stroke="#c3c3c3" stroke-width="1" fill="none"/>
<path d="M474.80 233.68H676.80" stroke="#c3c3c3" stroke-width="1" fill="none"/>
<path d="M474.80 207.57H676.80" stroke="#c3c3c3" stroke-width="1" fill="none"/>
<path d="M499.70 183.40V374.50" stroke="#cbcbcb" stroke-width="1" fill="none"/>
<path d="M514.60 183.40V374.50" stroke="#cbcbcb" stroke-width="1" fill="none"/>
<path d="M533.70 183.40V374.50" stroke="#cbcbcb" stroke-width="1" fill="none"/>
<path d="M548.60 183.40V374.50" stroke="#cbcbcb" stroke-width="1" fill="none"/>
<path d="M560.80 183.40V374.50" stroke="#cbcbcb" stroke-width="1" fill="none"/>
<path d="M588.30 183.40V374.50" stroke="#cbcbcb" stroke-width="1" fill="none"/>
<polygon points="474.80,173.50 499.70,181.00 514.60,185.40 533.70,190.30 548.60,194.50 560.80,201.10 588.30,207.80 658.80,251.00 658.80,270.50 588.30,226.80 560.80,220.20 548.60,209.30 533.70,201.00 514.60,194.30 499.70,188.30 474.80,175.50" fill="#ffd700" fill-opacity="0.5"/>
<polygon points="474.80,198.00 499.70,225.40 514.60,240.80 533.70,258.00 548.60,272.80 560.80,284.10 588.30,290.80 658.80,335.10 658.80,351.20 588.30,302.30 560.80,295.40 548.60,283.50 533.70,267.30 514.60,248.40 499.70,233.60 474.80,206.90" fill="#ffd700" fill-opacity="0.5"/>
<polygon points="474.80,175.50 499.70,188.30 514.60,194.30 533.70,201.00 548.60,209.30 560.80,220.20 588.30,226.80 658.80,270.50 658.80,335.10 588.30,290.80 560.80,284.10 548.60,272.80 533.70,258.00 514.60,240.80 499.70,225.40 474.80,198.00" fill="#ff0000" fill-opacity="0.5"/>
<polyline points="474.80,173.50 499.70,181.00 514.60,185.40 533.70,190.30 548.60,194.50 560.80,201.10 588.30,207.80 658.80,251.00" stroke="#f8d20a" stroke-width="1.9" fill="none" stroke-linejoin="round"/>
<polyline points="474.80,206.90 499.70,233.60 514.60,248.40 533.70,267.30 548.60,283.50 560.80,295.40 588.30,302.30 658.80,351.20" stroke="#f8d20a" stroke-width="1.9" fill="none" stroke-linejoin="round"/>
<polyline points="474.80,175.50 499.70,188.30 514.60,194.30 533.70,201.00 548.60,209.30 560.80,220.20 588.30,226.80 658.80,270.50" stroke="#fa4614" stroke-width="1.65" fill="none" stroke-linejoin="round"/>
<polyline points="474.80,198.00 499.70,225.40 514.60,240.80 533.70,258.00 548.60,272.80 560.80,284.10 588.30,290.80 658.80,335.10" stroke="#fa4614" stroke-width="1.65" fill="none" stroke-linejoin="round"/>
<polyline points="474.80,185.30 499.70,204.90 514.60,215.30 533.70,232.20 548.60,245.00 560.80,256.00 588.30,262.60 658.80,305.60" stroke="#8a0000" stroke-width="1.75" fill="none" stroke-linejoin="round"/>
<rect x="663.80" y="249.20" width="13.00" height="22.20" fill="#ffd700" fill-opacity="0.5"/>
<rect x="663.80" y="335.90" width="13.00" height="15.30" fill="#ffd700" fill-opacity="0.5"/>
<rect x="663.80" y="271.40" width="13.00" height="64.50" fill="#ff0000" fill-opacity="0.5"/>
<path d="M663.80 249.20H676.80" stroke="#f8d20a" stroke-width="1.9" fill="none"/>
<path d="M663.80 351.20H676.80" stroke="#f8d20a" stroke-width="1.9" fill="none"/>
<path d="M663.80 271.40H676.80" stroke="#fa4614" stroke-width="1.65" fill="none"/>
<path d="M663.80 335.90H676.80" stroke="#fa4614" stroke-width="1.65" fill="none"/>
<path d="M663.80 305.60H676.80" stroke="#8a0000" stroke-width="1.75" fill="none"/>
<path d="M474.80 259.79H676.80" stroke="#1f1f7a" stroke-width="1.6" stroke-dasharray="1.6 2.33" fill="none"/>
<path d="M474.80 296.29H676.80" stroke="#1f1f7a" stroke-width="1.8" stroke-dasharray="5.5 2.8" fill="none"/>
<path d="M658.80 183.40V374.50" stroke="#838383" stroke-width="1.1" fill="none"/>
</g>
<rect x="474.80" y="183.40" width="202.0" height="191.10" fill="none" stroke="#ababab" stroke-width="1"/>
<path d="M499.70 183.40V185.00" stroke="#777" stroke-width="0.8"/>
<path d="M514.60 183.40V185.00" stroke="#777" stroke-width="0.8"/>
<path d="M533.70 183.40V185.00" stroke="#777" stroke-width="0.8"/>
<path d="M548.60 183.40V185.00" stroke="#777" stroke-width="0.8"/>
<path d="M560.80 183.40V185.00" stroke="#777" stroke-width="0.8"/>
<path d="M588.30 183.40V185.00" stroke="#777" stroke-width="0.8"/>
<path d="M658.80 183.40V185.00" stroke="#777" stroke-width="0.8"/>
<path d="M474.80 374.50V376.80" stroke="#333" stroke-width="0.9"/>
<path d="M499.70 374.50V376.80" stroke="#333" stroke-width="0.9"/>
<path d="M514.60 374.50V376.80" stroke="#333" stroke-width="0.9"/>
<path d="M533.70 374.50V376.80" stroke="#333" stroke-width="0.9"/>
<path d="M548.60 374.50V376.80" stroke="#333" stroke-width="0.9"/>
<path d="M560.80 374.50V376.80" stroke="#333" stroke-width="0.9"/>
<path d="M588.30 374.50V376.80" stroke="#333" stroke-width="0.9"/>
<path d="M658.80 374.50V376.80" stroke="#333" stroke-width="0.9"/>
<path d="M676.80 374.50V376.80" stroke="#333" stroke-width="0.9"/>
<path d="M44.75 180.75H246.45" stroke="#dadada" stroke-width="0.9"/>
<path d="M259.80 180.75H461.50" stroke="#dadada" stroke-width="0.9"/>
<path d="M475.10 180.75H676.80" stroke="#dadada" stroke-width="0.9"/>
<text x="22.57" y="139.40" font-family="Liberation Serif" font-size="12.8">10</text>
<text x="35.43" y="134.60" font-family="Liberation Serif" font-size="8.8">1</text>
<text x="22.57" y="96.80" font-family="Liberation Serif" font-size="12.8">10</text>
<text x="35.11" y="92.00" font-family="Liberation Serif" font-size="8.8">2</text>
<text x="22.57" y="54.20" font-family="Liberation Serif" font-size="12.8">10</text>
<text x="35.08" y="49.40" font-family="Liberation Serif" font-size="8.8">3</text>
<text x="22.57" y="11.60" font-family="Liberation Serif" font-size="12.8">10</text>
<text x="35.33" y="6.80" font-family="Liberation Serif" font-size="8.8">4</text>
<text x="15.67" y="368.53" font-family="Liberation Serif" font-size="12.8">10</text>
<text x="34.78" y="363.73" font-family="Liberation Serif" font-size="8.8">3</text>
<path d="M29.0 361.63H34.3" stroke="#000" stroke-width="0.7"/>
<text x="15.67" y="342.42" font-family="Liberation Serif" font-size="12.8">10</text>
<text x="34.81" y="337.62" font-family="Liberation Serif" font-size="8.8">2</text>
<path d="M29.0 335.52H34.3" stroke="#000" stroke-width="0.7"/>
<text x="15.67" y="316.31" font-family="Liberation Serif" font-size="12.8">10</text>
<text x="34.43" y="311.51" font-family="Liberation Serif" font-size="8.8">1</text>
<path d="M29.0 309.41H34.3" stroke="#000" stroke-width="0.7"/>
<text x="22.57" y="290.20" font-family="Liberation Serif" font-size="12.8">10</text>
<text x="35.16" y="285.40" font-family="Liberation Serif" font-size="8.8">0</text>
<text x="22.57" y="264.09" font-family="Liberation Serif" font-size="12.8">10</text>
<text x="35.43" y="259.29" font-family="Liberation Serif" font-size="8.8">1</text>
<text x="22.57" y="237.98" font-family="Liberation Serif" font-size="12.8">10</text>
<text x="35.11" y="233.18" font-family="Liberation Serif" font-size="8.8">2</text>
<text x="22.57" y="211.87" font-family="Liberation Serif" font-size="12.8">10</text>
<text x="35.08" y="207.07" font-family="Liberation Serif" font-size="8.8">3</text>
<text transform="translate(18.80,101.96) rotate(-90)" font-family="Liberation Serif" font-size="13.9" font-style="italic">S</text>
<path d="M21.9 94.4L8.6 88.9" stroke="#000" stroke-width="0.95" fill="none"/>
<text transform="translate(18.80,88.30) rotate(-90)" font-family="Liberation Serif" font-size="13.9" font-style="italic">N</text>
<text transform="translate(11.75,306.50) rotate(-90)" font-family="Liberation Serif" font-size="13.9">Δ</text>
<text transform="translate(11.75,297.80) rotate(-90)" font-family="Liberation Serif" font-size="13.9">Ω</text>
<text transform="translate(12.70,283.00) rotate(-90)" font-family="Liberation Serif" font-size="16.5">[</text>
<text transform="translate(11.75,279.40) rotate(-90)" font-family="Liberation Serif" font-size="13.9">d</text>
<text transform="translate(11.75,271.90) rotate(-90)" font-family="Liberation Serif" font-size="13.9">e</text>
<text transform="translate(11.75,266.60) rotate(-90)" font-family="Liberation Serif" font-size="13.9">g</text>
<text transform="translate(6.50,260.20) rotate(-90)" font-family="Liberation Serif" font-size="9.5">2</text>
<text transform="translate(12.70,256.90) rotate(-90)" font-family="Liberation Serif" font-size="16.5">]</text>
<text transform="translate(41.65,420.70) rotate(-74)" font-family="Liberation Serif" font-size="12.5">1 month</text>
<text transform="translate(67.05,415.70) rotate(-74)" font-family="Liberation Serif" font-size="12.5">1 week</text>
<text transform="translate(82.45,412.70) rotate(-74)" font-family="Liberation Serif" font-size="12.5">3 days</text>
<text transform="translate(101.55,407.70) rotate(-74)" font-family="Liberation Serif" font-size="12.5">1 day</text>
<text transform="translate(115.45,422.70) rotate(-74)" font-family="Liberation Serif" font-size="12.5">10 hours</text>
<text transform="translate(128.65,416.70) rotate(-74)" font-family="Liberation Serif" font-size="12.5">5 hours</text>
<text transform="translate(156.65,412.70) rotate(-74)" font-family="Liberation Serif" font-size="12.5">1 hour</text>
<text transform="translate(227.15,408.70) rotate(-74)" font-family="Liberation Serif" font-size="12.5">1 min</text>
<text transform="translate(243.65,415.70) rotate(-74)" font-family="Liberation Serif" font-size="12.5">merger</text>
<text transform="translate(256.70,420.70) rotate(-74)" font-family="Liberation Serif" font-size="12.5">1 month</text>
<text transform="translate(282.10,415.70) rotate(-74)" font-family="Liberation Serif" font-size="12.5">1 week</text>
<text transform="translate(297.50,412.70) rotate(-74)" font-family="Liberation Serif" font-size="12.5">3 days</text>
<text transform="translate(316.60,407.70) rotate(-74)" font-family="Liberation Serif" font-size="12.5">1 day</text>
<text transform="translate(330.50,422.70) rotate(-74)" font-family="Liberation Serif" font-size="12.5">10 hours</text>
<text transform="translate(343.70,416.70) rotate(-74)" font-family="Liberation Serif" font-size="12.5">5 hours</text>
<text transform="translate(371.70,412.70) rotate(-74)" font-family="Liberation Serif" font-size="12.5">1 hour</text>
<text transform="translate(442.20,408.70) rotate(-74)" font-family="Liberation Serif" font-size="12.5">1 min</text>
<text transform="translate(458.70,415.70) rotate(-74)" font-family="Liberation Serif" font-size="12.5">merger</text>
<text transform="translate(472.00,420.70) rotate(-74)" font-family="Liberation Serif" font-size="12.5">1 month</text>
<text transform="translate(497.40,415.70) rotate(-74)" font-family="Liberation Serif" font-size="12.5">1 week</text>
<text transform="translate(512.80,412.70) rotate(-74)" font-family="Liberation Serif" font-size="12.5">3 days</text>
<text transform="translate(531.90,407.70) rotate(-74)" font-family="Liberation Serif" font-size="12.5">1 day</text>
<text transform="translate(545.80,422.70) rotate(-74)" font-family="Liberation Serif" font-size="12.5">10 hours</text>
<text transform="translate(559.00,416.70) rotate(-74)" font-family="Liberation Serif" font-size="12.5">5 hours</text>
<text transform="translate(587.00,412.70) rotate(-74)" font-family="Liberation Serif" font-size="12.5">1 hour</text>
<text transform="translate(657.50,408.70) rotate(-74)" font-family="Liberation Serif" font-size="12.5">1 min</text>
<text transform="translate(674.00,415.70) rotate(-74)" font-family="Liberation Serif" font-size="12.5">merger</text>
<rect x="48.50" y="11.6" width="134.10" height="17.8" fill="#fff" stroke="#666" stroke-width="0.9"/>
<rect x="263.60" y="11.6" width="134.70" height="17.8" fill="#fff" stroke="#666" stroke-width="0.9"/>
<rect x="478.50" y="11.6" width="115.90" height="17.8" fill="#fff" stroke="#666" stroke-width="0.9"/>
<text x="50.65" y="22.80" font-family="Liberation Serif" font-size="12.6" font-style="italic" textLength="9.3" lengthAdjust="spacingAndGlyphs">M</text>
<text x="60.33" y="24.40" font-family="Liberation Serif" font-size="9.4">BHB</text>
<path d="M82.50 18.40H90.90M82.50 20.50H90.90" stroke="#000" stroke-width="0.9" fill="none"/>
<text x="94.20" y="22.80" font-family="Liberation Serif" font-size="12.6">3</text>
<path d="M104.00 16.60L109.60 22.30M109.60 16.60L104.00 22.30" stroke="#000" stroke-width="0.9" fill="none"/>
<text x="113.09" y="22.80" font-family="Liberation Serif" font-size="12.6">10</text>
<text x="125.32" y="19.20" font-family="Liberation Serif" font-size="8.3">5</text>
<text x="129.54" y="22.80" font-family="Liberation Serif" font-size="12.6">M</text>
<circle cx="144.80" cy="22.20" r="2.6" fill="none" stroke="#000" stroke-width="0.75"/><circle cx="144.80" cy="22.20" r="0.65" fill="#000"/>
<text x="148.52" y="22.80" font-family="Liberation Serif" font-size="12.6">,</text>
<text x="154.26" y="22.80" font-family="Liberation Serif" font-size="12.6">z</text>
<path d="M163.10 18.40H171.50M163.10 20.50H171.50" stroke="#000" stroke-width="0.9" fill="none"/>
<text x="174.29" y="22.80" font-family="Liberation Serif" font-size="12.6">1</text>
<text x="265.65" y="22.80" font-family="Liberation Serif" font-size="12.6" font-style="italic" textLength="9.3" lengthAdjust="spacingAndGlyphs">M</text>
<text x="275.33" y="24.40" font-family="Liberation Serif" font-size="9.4">BHB</text>
<path d="M297.50 18.40H305.90M297.50 20.50H305.90" stroke="#000" stroke-width="0.9" fill="none"/>
<text x="309.20" y="22.80" font-family="Liberation Serif" font-size="12.6">3</text>
<path d="M319.00 16.60L324.60 22.30M324.60 16.60L319.00 22.30" stroke="#000" stroke-width="0.9" fill="none"/>
<text x="328.09" y="22.80" font-family="Liberation Serif" font-size="12.6">10</text>
<text x="340.44" y="19.20" font-family="Liberation Serif" font-size="8.3">6</text>
<text x="345.14" y="22.80" font-family="Liberation Serif" font-size="12.6">M</text>
<circle cx="360.40" cy="22.20" r="2.6" fill="none" stroke="#000" stroke-width="0.75"/><circle cx="360.40" cy="22.20" r="0.65" fill="#000"/>
<text x="364.12" y="22.80" font-family="Liberation Serif" font-size="12.6">,</text>
<text x="369.86" y="22.80" font-family="Liberation Serif" font-size="12.6">z</text>
<path d="M378.70 18.40H387.10M378.70 20.50H387.10" stroke="#000" stroke-width="0.9" fill="none"/>
<text x="389.89" y="22.80" font-family="Liberation Serif" font-size="12.6">1</text>
<text x="480.75" y="22.80" font-family="Liberation Serif" font-size="12.6" font-style="italic" textLength="9.3" lengthAdjust="spacingAndGlyphs">M</text>
<text x="490.43" y="24.40" font-family="Liberation Serif" font-size="9.4">BHB</text>
<path d="M512.60 18.40H521.00M512.60 20.50H521.00" stroke="#000" stroke-width="0.9" fill="none"/>
<text x="524.39" y="22.80" font-family="Liberation Serif" font-size="12.6">10</text>
<text x="536.05" y="19.20" font-family="Liberation Serif" font-size="8.3">7</text>
<text x="540.44" y="22.80" font-family="Liberation Serif" font-size="12.6">M</text>
<circle cx="556.00" cy="22.20" r="2.6" fill="none" stroke="#000" stroke-width="0.75"/><circle cx="556.00" cy="22.20" r="0.65" fill="#000"/>
<text x="559.62" y="22.80" font-family="Liberation Serif" font-size="12.6">,</text>
<text x="565.66" y="22.80" font-family="Liberation Serif" font-size="12.6">z</text>
<path d="M574.60 18.40H583.00M574.60 20.50H583.00" stroke="#000" stroke-width="0.9" fill="none"/>
<text x="586.09" y="22.80" font-family="Liberation Serif" font-size="12.6">1</text>
</svg>
</body></html>
